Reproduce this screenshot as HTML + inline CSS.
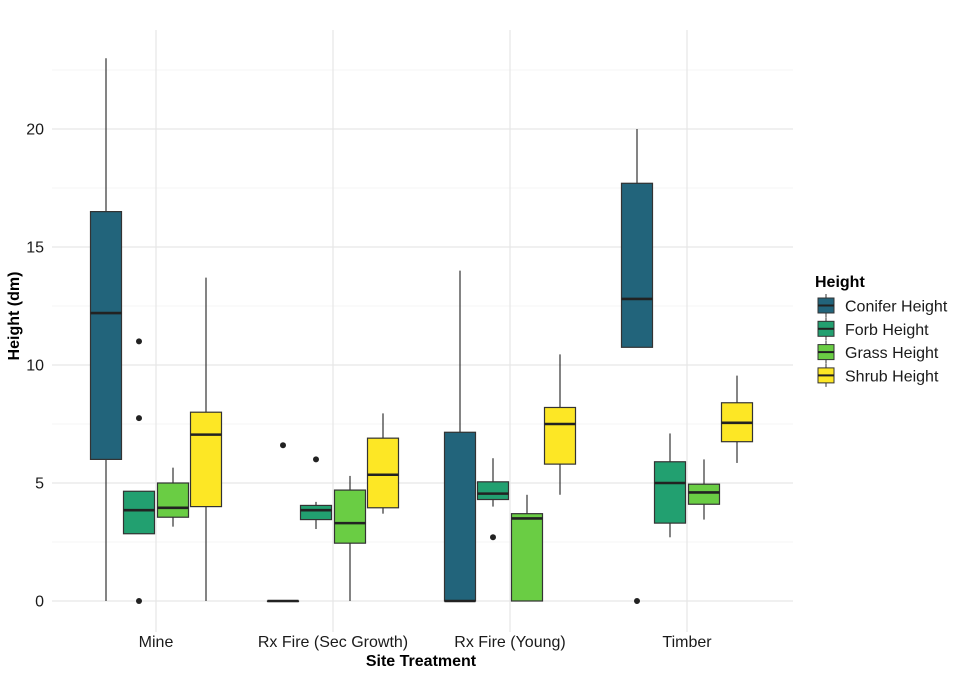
<!DOCTYPE html>
<html><head><meta charset="utf-8"><style>
body{margin:0;background:#fff;font-family:"Liberation Sans",Arial,sans-serif}
svg text{font-family:"Liberation Sans",Arial,sans-serif}
</style></head><body>
<svg id="chart" width="962" height="676" viewBox="0 0 962 676"></svg>
<script>
const categories=["Mine","Rx Fire (Sec Growth)","Rx Fire (Young)","Timber"];
const seriesNames=["Conifer Height","Forb Height","Grass Height","Shrub Height"];
const seriesColors=["#22647b","#22a070","#6acd44","#fde725"];
// each: [whiskerLow, q1, median, q3, whiskerHigh]
const conifer=[[0,6.0,12.2,16.5,23.0],[0,0,0,0,0],[0,0,0,7.15,14.0],[10.75,10.75,12.8,17.7,20.0]];
const forb=[[2.85,2.85,3.85,4.65,4.65],[3.05,3.45,3.85,4.05,4.2],[4.0,4.3,4.55,5.05,6.05],[2.7,3.3,5.0,5.9,7.1]];
const grass=[[3.15,3.55,3.95,5.0,5.65],[0,2.45,3.3,4.7,5.3],[0,0,3.5,3.7,4.5],[3.45,4.1,4.6,4.95,6.0]];
const shrub=[[0,4.0,7.05,8.0,13.7],[3.7,3.95,5.35,6.9,7.95],[4.5,5.8,7.5,8.2,10.45],[5.85,6.75,7.55,8.4,9.55]];
const outliers=[[0,1,11.0],[0,1,7.75],[0,1,0],[1,0,6.6],[1,1,6.0],[2,1,2.7],[3,0,0]]; // [cat, series, value]
const yTicks=[0,5,10,15,20];
const yMinor=[2.5,7.5,12.5,17.5,22.5];
const series=[conifer,forb,grass,shrub];

const NS="http://www.w3.org/2000/svg";
const svg=document.getElementById("chart");
const L=52,R=793,T=30,B=632;
const y=v=>601-v*23.6;
const xc=i=>156+i*177;
const off=[-50,-17,17,50];
const bw=31;
function el(tag,attrs,parent){const e=document.createElementNS(NS,tag);for(const k in attrs)e.setAttribute(k,attrs[k]);(parent||svg).appendChild(e);return e;}
const grid=el("g",{});


yMinor.forEach(v=>el("line",{x1:L,x2:R,y1:y(v),y2:y(v),stroke:"#f0f0f0","stroke-width":0.8},grid));
yTicks.forEach(v=>el("line",{x1:L,x2:R,y1:y(v),y2:y(v),stroke:"#e6e6e6","stroke-width":1.2},grid));
categories.forEach((c,i)=>el("line",{x1:xc(i),x2:xc(i),y1:T,y2:B,stroke:"#e6e6e6","stroke-width":1.2},grid));
yTicks.forEach(v=>{const t=el("text",{x:44,y:y(v)+5.5,"text-anchor":"end","font-size":16,fill:"#1a1a1a"});t.textContent=v;

});
categories.forEach((c,i)=>{const t=el("text",{x:xc(i),y:647,"text-anchor":"middle","font-size":16,fill:"#1a1a1a"});t.textContent=c;

});
series.forEach((s,si)=>{s.forEach((d,ci)=>{
 const g=el("g",{});
 
 
 const cx=xc(ci)+off[si];
 el("line",{x1:cx,x2:cx,y1:y(d[0]),y2:y(d[4]),stroke:"#333","stroke-width":1.2},g);
 el("rect",{x:cx-bw/2,y:y(d[3]),width:bw,height:Math.max(0.5,y(d[1])-y(d[3])),fill:seriesColors[si],stroke:"#333","stroke-width":1.2},g);
 el("line",{x1:cx-bw/2,x2:cx+bw/2,y1:y(d[2]),y2:y(d[2]),stroke:"#222","stroke-width":2.6},g);
});});
outliers.forEach(o=>{const c=el("circle",{cx:xc(o[0])+off[o[1]],cy:y(o[2]),r:3,fill:"#222"});

});
let t=el("text",{x:421,y:666,"text-anchor":"middle","font-size":16,"font-weight":"bold"});t.textContent="Site Treatment";


t=el("text",{x:0,y:0,"text-anchor":"middle","font-size":16,"font-weight":"bold",transform:"translate(19,316) rotate(-90)"});t.textContent="Height (dm)";


t=el("text",{x:815,y:287,"font-size":16,"font-weight":"bold"});t.textContent="Height";


seriesNames.forEach((n,i)=>{const g=el("g",{});
 
 
 const yy=294+i*23.3;
 el("line",{x1:826,x2:826,y1:yy,y2:yy+23,stroke:"#333","stroke-width":1},g);
 el("rect",{x:818,y:yy+4,width:16,height:15,fill:seriesColors[i],stroke:"#333","stroke-width":1},g);
 el("line",{x1:818,x2:834,y1:yy+11.5,y2:yy+11.5,stroke:"#222","stroke-width":2},g);
 const tt=el("text",{x:845,y:yy+17.5,"font-size":16,fill:"#1a1a1a"},g);tt.textContent=n;});
</script>
</body></html>
